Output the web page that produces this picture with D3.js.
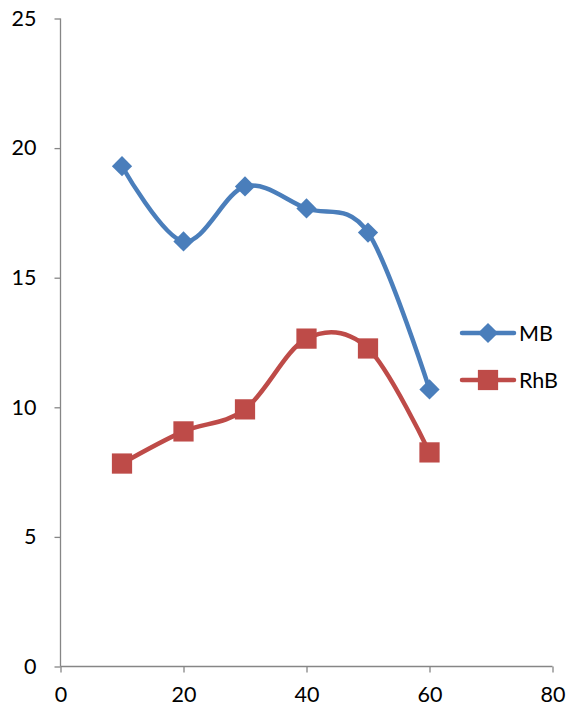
<!DOCTYPE html>
<html>
<head>
<meta charset="utf-8">
<script src="https://cdn.jsdelivr.net/npm/d3@7"></script>
<style>
  html, body { margin: 0; padding: 0; background: #fff; }
  svg { display: block; }
  text { font-family: Lato, "Open Sans", "Liberation Sans", sans-serif; fill: #000; }
</style>
</head>
<body>
<svg id="chart" width="568" height="712"></svg>
<script>
// Data
const xValues = [10, 20, 30, 40, 50, 60];
const mbValues = [19.3, 16.4, 18.52, 17.67, 16.74, 10.69];
const rhbValues = [7.83, 9.07, 9.92, 12.65, 12.27, 8.26];
const seriesNames = ["MB", "RhB"];
const xTicks = [0, 20, 40, 60, 80];
const yTicks = [0, 5, 10, 15, 20, 25];

const colors = { MB: "#4A7EBB", RhB: "#BE4B48" };
const fontSize = 21.5;

const svg = d3.select("#chart");

const x = d3.scaleLinear().domain([0, 80]).range([60.5, 552.5]);
const y = d3.scaleLinear().domain([0, 25]).range([666.5, 18.5]);

const axisColor = "#868686";

// Y axis
const yAxis = svg.append("g")
  .attr("transform", `translate(${x(0)},0)`)
  .call(d3.axisLeft(y).tickValues(yTicks).tickSize(6).tickPadding(18).tickFormat(d3.format("d")));
// X axis
const xAxis = svg.append("g")
  .attr("transform", `translate(0,${y(0)})`)
  .call(d3.axisBottom(x).tickValues(xTicks).tickSize(6).tickPadding(14).tickFormat(d3.format("d")));

[yAxis, xAxis].forEach(g => {
  g.select(".domain").attr("stroke", axisColor).attr("stroke-width", 1.3);
  g.selectAll(".tick line").attr("stroke", axisColor).attr("stroke-width", 1.3);
  g.selectAll(".tick text").attr("font-size", fontSize).attr("fill", "#000")
    .style("font-family", "Lato, 'Open Sans', 'Liberation Sans', sans-serif");
});
// plain axis lines without end caps
yAxis.select(".domain").attr("d", `M0,${y(25)}V${y(0)}`);
xAxis.select(".domain").attr("d", `M${x(0)},0H${x(80)}`);

const line = d3.line()
  .x(d => x(d[0]))
  .y(d => y(d[1]))
  .curve(d3.curveCardinal.tension(0));

const series = [
  { name: "MB", values: mbValues, symbol: d3.symbolSquare, size: 205, rotate: 45 },
  { name: "RhB", values: rhbValues, symbol: d3.symbolSquare, size: 410, rotate: 0 }
];

series.forEach(s => {
  const pts = xValues.map((xv, i) => [xv, s.values[i]]);
  svg.append("path")
    .datum(pts)
    .attr("fill", "none")
    .attr("stroke", colors[s.name])
    .attr("stroke-width", 4.5)
    .attr("stroke-linecap", "round")
    .attr("d", line);
  svg.append("g").selectAll("path")
    .data(pts)
    .join("path")
    .attr("transform", d => `translate(${x(d[0])},${y(d[1])}) rotate(${s.rotate})`)
    .attr("d", d3.symbol(s.symbol, s.size))
    .attr("fill", colors[s.name]);
});

// Legend
const legend = svg.append("g");
const legendY = [333, 380];
series.forEach((s, i) => {
  const g = legend.append("g").attr("transform", `translate(0,${legendY[i]})`);
  g.append("line")
    .attr("x1", 462).attr("x2", 514).attr("y1", 0).attr("y2", 0)
    .attr("stroke", colors[s.name]).attr("stroke-width", 4.5).attr("stroke-linecap", "round");
  g.append("path")
    .attr("transform", `translate(488,0) rotate(${s.rotate})`)
    .attr("d", d3.symbol(s.symbol, s.size))
    .attr("fill", colors[s.name]);
  g.append("text")
    .attr("x", 519).attr("y", 0).attr("dy", "0.36em")
    .attr("font-size", fontSize)
    .text(s.name);
});
</script>
</body>
</html>
